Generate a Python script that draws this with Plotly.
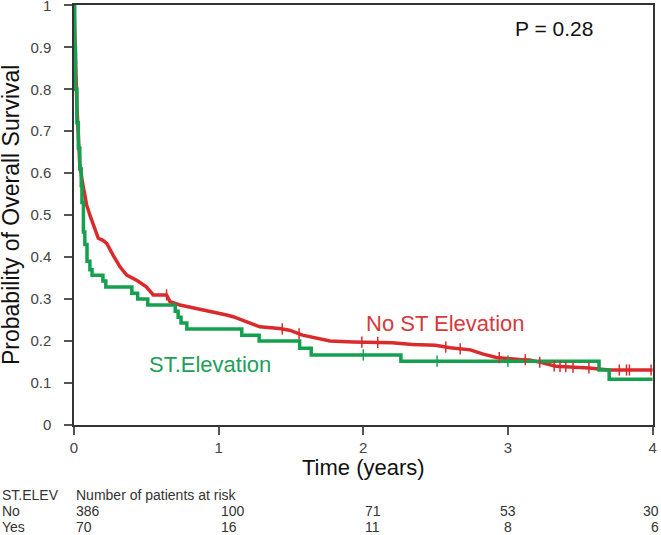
import numpy as np
import plotly.graph_objects as go

# ---- data ----
red_time = [0, 0.005, 0.012, 0.02, 0.03, 0.04, 0.06, 0.087, 0.11, 0.133, 0.168, 0.2, 0.226,
            0.27, 0.318, 0.364, 0.433, 0.5, 0.548, 0.64, 0.663, 0.732, 0.848, 0.94, 1.055,
            1.1, 1.19, 1.285, 1.42, 1.49, 1.58, 1.677, 1.77, 1.93, 2.2, 2.34, 2.5, 2.6,
            2.74, 2.83, 2.92, 3.08, 3.15, 3.24, 3.33, 3.56, 3.70, 4.0]
red_surv = [1.0, 0.92, 0.84, 0.76, 0.69, 0.62, 0.575, 0.525, 0.50, 0.48, 0.445, 0.44, 0.433,
            0.405, 0.377, 0.357, 0.345, 0.329, 0.31, 0.31, 0.294, 0.286, 0.278, 0.27, 0.262,
            0.258, 0.246, 0.234, 0.23, 0.226, 0.214, 0.206, 0.2, 0.198, 0.196, 0.192, 0.19, 0.184,
            0.179, 0.169, 0.161, 0.156, 0.155, 0.148, 0.14, 0.136, 0.131, 0.131]
red_censor = [0.64, 1.44, 1.556, 1.99, 2.1, 2.57, 2.67, 2.94, 3.12, 3.22, 3.32, 3.36, 3.40,
              3.45, 3.56, 3.77, 3.82, 3.84, 3.99]

green_time = [0, 0.005, 0.01, 0.02, 0.03, 0.04, 0.05, 0.055, 0.065, 0.075, 0.09, 0.11, 0.125,
              0.2, 0.22, 0.40, 0.44, 0.51, 0.70, 0.72, 0.74, 0.78, 1.16, 1.28, 1.56, 1.64,
              2.26, 3.63, 3.70, 4.0]
green_surv = [1.0, 0.90, 0.80, 0.72, 0.66, 0.61, 0.57, 0.53, 0.46, 0.43, 0.39, 0.37, 0.357,
              0.343, 0.329, 0.314, 0.300, 0.286, 0.271, 0.257, 0.243, 0.229, 0.214, 0.200,
              0.183, 0.167, 0.152, 0.131, 0.109, 0.109]
green_censor = [2.0, 2.51, 3.0]

x_ticks = [0, 1, 2, 3, 4]
y_ticks = [0, 0.1, 0.2, 0.3, 0.4, 0.5, 0.6, 0.7, 0.8, 0.9, 1.0]
y_ticktext = ["0", "0.1", "0.2", "0.3", "0.4", "0.5", "0.6", "0.7", "0.8", "0.9", "1"]

risk_groups = ["No", "Yes"]
risk_no = [386, 100, 71, 53, 30]
risk_yes = [70, 16, 11, 8, 6]

p_text = "P = 0.28"

RED = "#DA2A2C"
GREEN = "#14A04F"
FONT = "Liberation Sans, Arial, sans-serif"

def step_lookup(times, surv, t):
    idx = np.searchsorted(np.array(times), t, side="right") - 1
    return surv[max(idx, 0)]

fig = go.Figure()
fig.add_trace(go.Scatter(x=red_time, y=red_surv, mode="lines", line=dict(color=RED, width=3.5),
                         line_shape="linear", showlegend=False, hoverinfo="skip"))
fig.add_trace(go.Scatter(x=green_time, y=green_surv, mode="lines", line=dict(color=GREEN, width=3.5),
                         line_shape="hv", showlegend=False, hoverinfo="skip"))
fig.add_trace(go.Scatter(x=red_censor, y=list(np.interp(red_censor, red_time, red_surv)), mode="markers",
                         marker=dict(symbol="line-ns", size=8, line=dict(color=RED, width=1.5)),
                         showlegend=False, hoverinfo="skip"))
fig.add_trace(go.Scatter(x=green_censor, y=[step_lookup(green_time, green_surv, t) for t in green_censor],
                         mode="markers",
                         marker=dict(symbol="line-ns", size=8, line=dict(color=GREEN, width=1.5)),
                         showlegend=False, hoverinfo="skip"))

ann = []
ann.append(dict(x=3.32, y=0.945, xref="x", yref="y", text=p_text, showarrow=False,
                font=dict(size=21, color="#111", family=FONT)))
ann.append(dict(x=2.57, y=0.243, xref="x", yref="y", text="No ST Elevation", showarrow=False,
                font=dict(size=22, color="#D63A3C", family=FONT)))
ann.append(dict(x=0.94, y=0.143, xref="x", yref="y", text="ST.Elevation", showarrow=False,
                font=dict(size=22, color="#21A05A", family=FONT)))
# axis titles
ann.append(dict(x=0, y=0.5, xref="paper", yref="paper", xshift=-63, text="Probability of Overall Survival",
                textangle=-90, showarrow=False, xanchor="center", yanchor="middle",
                font=dict(size=23, color="#111", family=FONT)))
ann.append(dict(x=2, y=-0.1, xref="x", yref="paper", text="Time (years)", showarrow=False,
                yanchor="middle", font=dict(size=22, color="#111", family=FONT)))
# risk table
tfont = dict(size=14, color="#333", family=FONT)
row_y = [-0.1667, -0.2048, -0.2429]
ann.append(dict(x=0, y=row_y[0], xref="paper", yref="paper", xshift=-74, text="ST.ELEV", showarrow=False,
                xanchor="left", yanchor="middle", font=tfont))
ann.append(dict(x=0, y=row_y[0], xref="x", yref="paper", text="Number of patients at risk", showarrow=False,
                xanchor="left", yanchor="middle", font=tfont))
for gi, (g, vals) in enumerate(zip(risk_groups, [risk_no, risk_yes])):
    yy = row_y[gi + 1]
    ann.append(dict(x=0, y=yy, xref="paper", yref="paper", xshift=-74, text=g, showarrow=False,
                    xanchor="left", yanchor="middle", font=tfont))
    for t, v in zip(x_ticks, vals):
        if t <= 2:
            anchor = "left"
        elif t == 3:
            anchor = "center"
        else:
            anchor = "right"
        xs = 8 if t == 4 else 0
        ann.append(dict(x=t, y=yy, xref="x", yref="paper", xshift=xs, text=str(v), showarrow=False,
                        xanchor=anchor, yanchor="middle", font=tfont))

fig.update_layout(
    width=661, height=535,
    margin=dict(l=74, r=8, t=5, b=110),
    paper_bgcolor="white", plot_bgcolor="white",
    font=dict(family=FONT),
    annotations=ann,
    xaxis=dict(range=[0, 4.003], tickvals=x_ticks, ticks="outside", ticklen=8, tickwidth=1.5,
               tickcolor="#555", showgrid=False, zeroline=False, showline=True, linecolor="#333",
               linewidth=1.5, mirror=True, automargin=False, ticklabeloverflow="allow",
               tickfont=dict(size=15, color="#444", family=FONT)),
    yaxis=dict(range=[0, 1.0008], tickvals=y_ticks, ticktext=y_ticktext, ticks="outside", ticklen=8,
               tickwidth=1.5, tickcolor="#555", showgrid=False, zeroline=False, showline=True,
               linecolor="#333", linewidth=1.5, mirror=True, ticklabelstandoff=10, automargin=False,
               ticklabeloverflow="allow", tickfont=dict(size=15, color="#444", family=FONT)),
)

fig.write_html("out.html", config={"displayModeBar": False},
               post_script="document.body.style.margin='0';")
